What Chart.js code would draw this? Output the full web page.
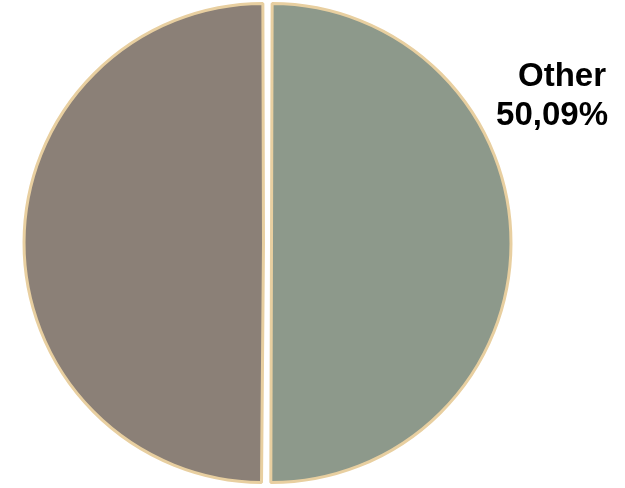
<!DOCTYPE html>
<html>
<head>
<meta charset="utf-8">
<script src="https://cdn.jsdelivr.net/npm/chart.js@4.4.1/dist/chart.umd.min.js"></script>
<style>
  html, body { margin: 0; padding: 0; background: #ffffff; overflow: hidden; }
  #wrap { width: 625px; height: 488px; overflow: hidden; position: relative; }
  #c { position: absolute; left: 0; top: -2px; }
</style>
</head>
<body>
<div id="wrap"><canvas id="c" width="625" height="490"></canvas></div>
<script>
const categories = ["Other", "Rest"];
const values = [50.09, 49.91];
const sliceColors = ["#8d998b", "#8b8077"];
const showLabel = [true, false];

const labelPlugin = {
  id: 'sliceLabels',
  afterDatasetsDraw(chart) {
    const meta = chart.getDatasetMeta(0);
    const ctx = chart.ctx;
    ctx.save();
    ctx.font = 'bold 33px "Liberation Sans", Arial, sans-serif';
    ctx.fillStyle = '#000000';
    ctx.textAlign = 'right';
    ctx.textBaseline = 'alphabetic';
    meta.data.forEach((arc, i) => {
      if (!showLabel[i]) return;
      const p = arc.getProps(['x', 'y', 'outerRadius'], true);
      const xr = p.x + p.outerRadius + 105;
      const yb = p.y - p.outerRadius * 0.499;
      const pct = values[i].toFixed(2).replace('.', ',') + '%';
      ctx.fillText(categories[i], xr - 2, yb - 39);
      ctx.fillText(pct, xr, yb);
    });
    ctx.restore();
  }
};

new Chart(document.getElementById('c'), {
  type: 'pie',
  data: {
    labels: categories,
    datasets: [{
      data: values,
      backgroundColor: sliceColors,
      borderColor: '#e8cfa0',
      borderWidth: 3,
      offset: 16
    }]
  },
  options: {
    responsive: false,
    animation: false,
    layout: { padding: { left: 0, right: 90, top: 0, bottom: 0 } },
    plugins: {
      legend: { display: false },
      tooltip: { enabled: false }
    }
  },
  plugins: [labelPlugin]
});
</script>
</body>
</html>
